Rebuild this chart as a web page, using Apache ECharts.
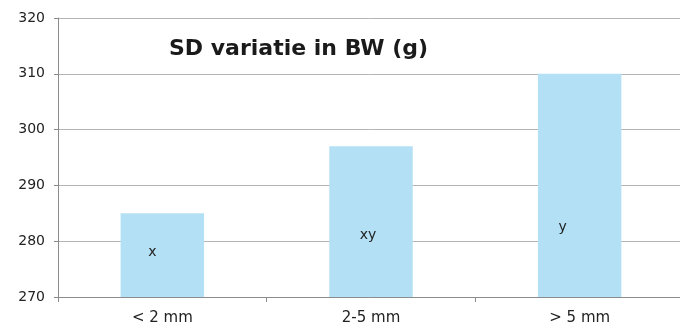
<!DOCTYPE html>
<html><head><meta charset="utf-8">
<script src="https://cdn.jsdelivr.net/npm/echarts@6/dist/echarts.min.js"></script>
<style>html,body{margin:0;padding:0;background:#fff}#c{width:680px;height:331px}</style>
</head><body><div id="c"></div>
<script>
const categories = ['< 2 mm', '2-5 mm', '> 5 mm'];
const values = [285, 297, 310];
const letters = ['x', 'xy', 'y'];
const labelOffsets = [[-10, -3], [-3, 14], [-17, 42]];
const yTicks = [270, 280, 290, 300, 310, 320];

const chart = echarts.init(document.getElementById('c'));
chart.setOption({
  animation: false,
  title: {
    text: 'SD variatie in BW (g)', left: 164, top: 33,
    textStyle: { fontFamily: 'DejaVu Sans', fontWeight: 'bold', fontSize: 22, color: '#1a1a1a' }
  },
  grid: { left: 58, width: 626, top: 18, bottom: 34, outerBoundsMode: 'none' },
  xAxis: {
    type: 'category', data: categories,
    axisLine: { lineStyle: { color: '#8c8c8c' } },
    axisTick: { show: true, length: 5, lineStyle: { color: '#8c8c8c' } },
    axisLabel: { fontFamily: 'DejaVu Sans', fontSize: 15, color: '#222', margin: 14 }
  },
  yAxis: {
    type: 'value', min: yTicks[0], max: yTicks[yTicks.length - 1], interval: 10,
    axisLine: { show: true, lineStyle: { color: '#8c8c8c' } },
    axisTick: { show: true, length: 4, lineStyle: { color: '#8c8c8c' } },
    axisLabel: { fontFamily: 'DejaVu Sans', fontSize: 14, color: '#222', margin: 13 },
    splitLine: { lineStyle: { color: '#b4b4b4' } }
  },
  series: [{
    type: 'bar', barWidth: '40%',
    itemStyle: { color: '#b3e0f5' },
    data: values.map((v, i) => ({
      value: v,
      label: {
        show: true, position: 'inside', offset: labelOffsets[i],
        formatter: letters[i], fontFamily: 'DejaVu Sans', fontSize: 14, color: '#222'
      }
    }))
  }]
});
</script></body></html>
